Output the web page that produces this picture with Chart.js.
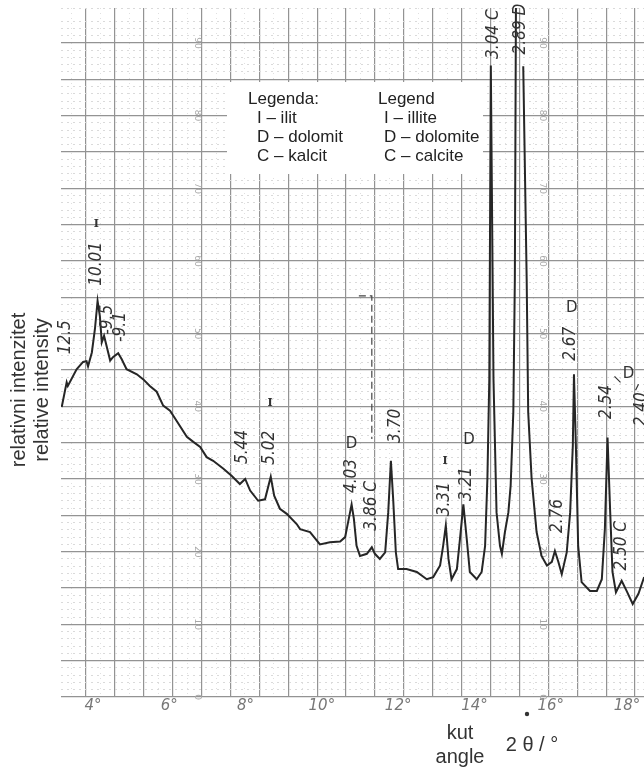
<!DOCTYPE html>
<html>
<head>
<meta charset="utf-8">
<script src="https://cdn.jsdelivr.net/npm/chart.js@4.4.1/dist/chart.umd.min.js"></script>
<style>
  html, body { margin: 0; padding: 0; background: #fff; }
  #wrap { width: 644px; height: 769px; }
</style>
</head>
<body>
<div id="wrap"><canvas id="chart" width="644" height="769"></canvas></div>
<script>
// Difraktogram: 2 theta (stupnjevi) i relativni intenzitet
const angle2Theta = [3.18, 3.31, 3.34, 3.57, 3.74, 3.83, 3.87, 3.97, 4.05, 4.12,
    4.18, 4.23, 4.29, 4.45, 4.53, 4.66, 4.75, 4.88, 5.15, 5.32,
    5.49, 5.67, 5.84, 6.02, 6.19, 6.46, 6.63, 6.81, 6.98, 7.15,
    7.42, 7.64, 7.85, 7.99, 8.12, 8.33, 8.51, 8.66, 8.75, 8.90,
    9.08, 9.34, 9.43, 9.69, 9.95, 10.21, 10.48, 10.61, 10.69, 10.78,
    10.84, 10.91, 11.00, 11.18, 11.31, 11.39, 11.52, 11.66, 11.74, 11.81,
    11.87, 11.94, 12.00, 12.22, 12.49, 12.75, 12.92, 13.10, 13.18, 13.25,
    13.32, 13.40, 13.54, 13.62, 13.71, 13.80, 13.88, 14.06, 14.19, 14.28,
    14.34, 14.39, 14.43, 14.50, 14.58, 14.67, 14.72, 14.80, 14.89, 14.95,
    15.02, 15.06, 15.10, 15.19, 15.28, 15.37, 15.41, 15.50, 15.63, 15.76,
    15.90, 16.03, 16.11, 16.20, 16.29, 16.42, 16.51, 16.58, 16.61, 16.66,
    16.72, 16.81, 17.03, 17.21, 17.34, 17.42, 17.49, 17.56, 17.62, 17.71,
    17.86, 17.99, 18.15, 18.30, 18.45];
const intensity = [39.9, 43.3, 42.8, 45.1, 46.1, 46.2, 45.5, 47.4, 50.6, 54.5,
    52.4, 48.8, 49.7, 46.3, 46.8, 47.3, 46.5, 45.1, 44.4, 43.7,
    42.8, 42.0, 40.1, 39.4, 38.0, 35.8, 35.1, 34.4, 33.0, 32.5,
    31.4, 30.4, 29.3, 30.0, 28.4, 27.0, 27.2, 30.3, 27.7, 25.9,
    25.2, 23.8, 23.1, 22.7, 21.0, 21.3, 21.4, 22.0, 24.1, 26.5,
    24.5, 20.8, 19.4, 19.7, 20.6, 19.7, 19.0, 19.9, 25.4, 32.5,
    27.2, 19.9, 17.6, 17.6, 17.2, 16.2, 16.5, 18.1, 20.8, 23.6,
    19.0, 16.2, 17.6, 21.7, 26.5, 21.7, 17.2, 16.2, 17.2, 20.8,
    30.0, 43.7, 86.9, 43.7, 25.4, 20.8, 19.7, 22.7, 25.4, 29.1,
    39.2, 57.5, 110, null, 86.8, 57.5, 39.2, 30.0, 22.7, 19.4,
    18.1, 18.6, 20.1, 18.6, 16.9, 19.9, 25.4, 34.6, 44.4, 34.6,
    20.8, 15.8, 14.6, 14.6, 16.2, 23.1, 35.7, 25.4, 17.2, 14.4,
    16.0, 14.6, 12.8, 14.2, 16.5];

// olovkom ucrtana oznaka kod 11.3 stupnja
const markAngle = [10.97, 11.31, 11.31];
const markLevel = [55.2, 55.2, 35.5];

// oznake vrhova (d-vrijednosti)
const peakText  = ['12.5', '10.01', '-9.5', '-9.1', '5.44', '5.02', '4.03', '3.86 C', '3.70',
    '3.31', '3.21', '3.04 C', '2.89 D', '2.76', '2.67', '2.54', '2.50 C', '2.40'];
const peakAngle = [3.29, 4.10, 4.37, 4.71, 7.91, 8.64, 10.78, 11.31, 11.94,
    13.23, 13.80, 14.49, 15.20, 16.17, 16.51, 17.47, 17.86, 18.37];
const peakLevel = [49.5, 59.6, 51.9, 50.9, 34.4, 34.3, 30.4, 26.3, 37.3,
    27.2, 29.3, 91.2, 91.9, 24.9, 48.6, 40.6, 20.8, 39.6];

// faze: I - ilit, D - dolomit
const phaseText  = ['I', 'I', 'D', 'I', 'D', 'D', 'D'];
const phaseAngle = [4.09, 8.64, 10.78, 13.23, 13.86, 16.55, 18.04];
const phaseLevel = [65.0, 40.5, 34.8, 32.4, 35.3, 53.5, 44.4];

const xTicks = [4, 6, 8, 10, 12, 14, 16, 18];
const paperScale = [0, 10, 20, 30, 40, 50, 60, 70, 80, 90];

const legendLeft  = ['Legenda:', 'I – ilit', 'D – dolomit', 'C – kalcit'];
const legendRight = ['Legend', 'I – illite', 'D – dolomite', 'C – calcite'];

const isWhole = v => Math.abs(v - Math.round(v)) < 1e-6;

const decor = {
    id: 'decor',
    beforeDatasetsDraw(chart) {
        const { ctx, scales: { x, y } } = chart;
        ctx.save();
        // brojevi tiskani na papiru
        ctx.fillStyle = '#a8a8a8';
        ctx.font = '9px "DejaVu Sans"';
        ctx.textAlign = 'center';
        ctx.textBaseline = 'middle';
        [6.73, 15.77].forEach(a => {
            paperScale.forEach(v => {
                ctx.save();
                ctx.translate(x.getPixelForValue(a), y.getPixelForValue(v));
                ctx.rotate(Math.PI / 2);
                ctx.fillText(String(v), 0, 0);
                ctx.restore();
            });
        });
        // legenda
        ctx.fillStyle = '#fff';
        ctx.fillRect(227, 82, 256, 92);
        ctx.fillStyle = '#222';
        ctx.font = '17px "Liberation Sans", Arial, sans-serif';
        ctx.textAlign = 'left';
        legendLeft.forEach((t, i) => ctx.fillText(t, i ? 257 : 248, 99 + i * 19));
        legendRight.forEach((t, i) => ctx.fillText(t, i ? 384 : 378, 99 + i * 19));
        ctx.restore();
    },
    afterDatasetsDraw(chart) {
        const { ctx, scales: { x, y } } = chart;
        ctx.save();
        ctx.fillStyle = '#333';
        ctx.textAlign = 'center';
        ctx.textBaseline = 'middle';
        ctx.font = 'italic 17px "DejaVu Sans Condensed", "DejaVu Sans", sans-serif';
        peakText.forEach((t, i) => {
            ctx.save();
            ctx.translate(x.getPixelForValue(peakAngle[i]), y.getPixelForValue(peakLevel[i]));
            ctx.rotate(-Math.PI / 2);
            ctx.fillText(t, 0, 0);
            ctx.restore();
        });
        phaseText.forEach((t, i) => {
            ctx.font = t === 'I' ? 'bold 11px "DejaVu Serif", serif' : '15px "DejaVu Sans", sans-serif';
            ctx.fillText(t, x.getPixelForValue(phaseAngle[i]), y.getPixelForValue(phaseLevel[i]));
        });
        // crtice oko zadnjeg D
        const dx = x.getPixelForValue(phaseAngle[6]), dy = y.getPixelForValue(phaseLevel[6]);
        ctx.strokeStyle = '#333';
        ctx.lineWidth = 1.2;
        ctx.beginPath();
        ctx.moveTo(dx - 14, dy + 2); ctx.lineTo(dx - 8, dy + 8);
        ctx.moveTo(dx + 10, dy + 10); ctx.lineTo(dx + 7, dy + 16);
        ctx.stroke();

        // naslov osi y
        ctx.fillStyle = '#333';
        ctx.font = '20px "Liberation Sans", Arial, sans-serif';
        ['relativni intenzitet', 'relative intensity'].forEach((t, i) => {
            ctx.save();
            ctx.translate(19 + i * 23, 390);
            ctx.rotate(-Math.PI / 2);
            ctx.fillText(t, 0, 0);
            ctx.restore();
        });
        // naslov osi x
        ctx.fillText('kut', 460, 733);
        ctx.fillText('angle', 460, 757);
        ctx.fillText('2 θ / °', 532, 745);
        ctx.beginPath();
        ctx.arc(527, 714, 2.2, 0, Math.PI * 2);
        ctx.fill();
        ctx.restore();
    }
};

const ctx = document.getElementById('chart').getContext('2d');
new Chart(ctx, {
    type: 'scatter',
    data: {
        datasets: [{
            data: angle2Theta.map((a, i) => ({ x: a, y: intensity[i] })),
            showLine: true,
            borderColor: '#262626',
            borderWidth: 2,
            pointRadius: 0,
            tension: 0,
            spanGaps: false
        }, {
            data: markAngle.map((a, i) => ({ x: a, y: markLevel[i] })),
            showLine: true,
            borderColor: '#444',
            borderWidth: 1.2,
            borderDash: [7, 4],
            pointRadius: 0
        }]
    },
    options: {
        responsive: false,
        animation: false,
        layout: { padding: { top: 8, left: 0, right: 0, bottom: 0 } },
        plugins: { legend: { display: false }, tooltip: { enabled: false } },
        scales: {
            x: {
                type: 'linear',
                position: 'bottom',
                min: 3.161,
                max: 18.446,
                afterBuildTicks: s => { s.ticks = xTicks.map(v => ({ value: v })); },
                ticks: {
                    callback: v => v + '°',
                    color: '#777',
                    font: { family: '"DejaVu Sans", sans-serif', size: 15, style: 'italic' },
                    padding: 0,
                    maxRotation: 0
                },
                grid: { display: false, drawTicks: false },
                border: { display: false },
                afterFit: s => { s.height = 72; }
            },
            // mreza papira (okomite linije)
            xg: {
                type: 'linear',
                position: 'bottom',
                min: -0.865,
                max: 19.31,
                ticks: { display: false, stepSize: 0.5, includeBounds: false },
                grid: {
                    drawTicks: false,
                    color: c => isWhole(c.tick.value) ? '#939393' : '#e0e0e0',
                    lineWidth: c => isWhole(c.tick.value) ? 1.2 : 1
                },
                border: { display: false, dash: c => isWhole(c.tick.value) ? [] : [1, 4] },
                afterFit: s => { s.height = 0; }
            },
            y: {
                min: 0,
                max: 94.8,
                ticks: { display: false, stepSize: 1 },
                grid: {
                    drawTicks: false,
                    color: c => c.tick.value % 5 === 0 ? '#939393' : '#dadada',
                    lineWidth: c => c.tick.value % 5 === 0 ? 1.2 : 1
                },
                border: { display: false, dash: c => c.tick.value % 5 === 0 ? [] : [2, 4] },
                afterFit: s => { s.width = 61; }
            }
        }
    },
    plugins: [decor]
});
</script>
</body>
</html>
